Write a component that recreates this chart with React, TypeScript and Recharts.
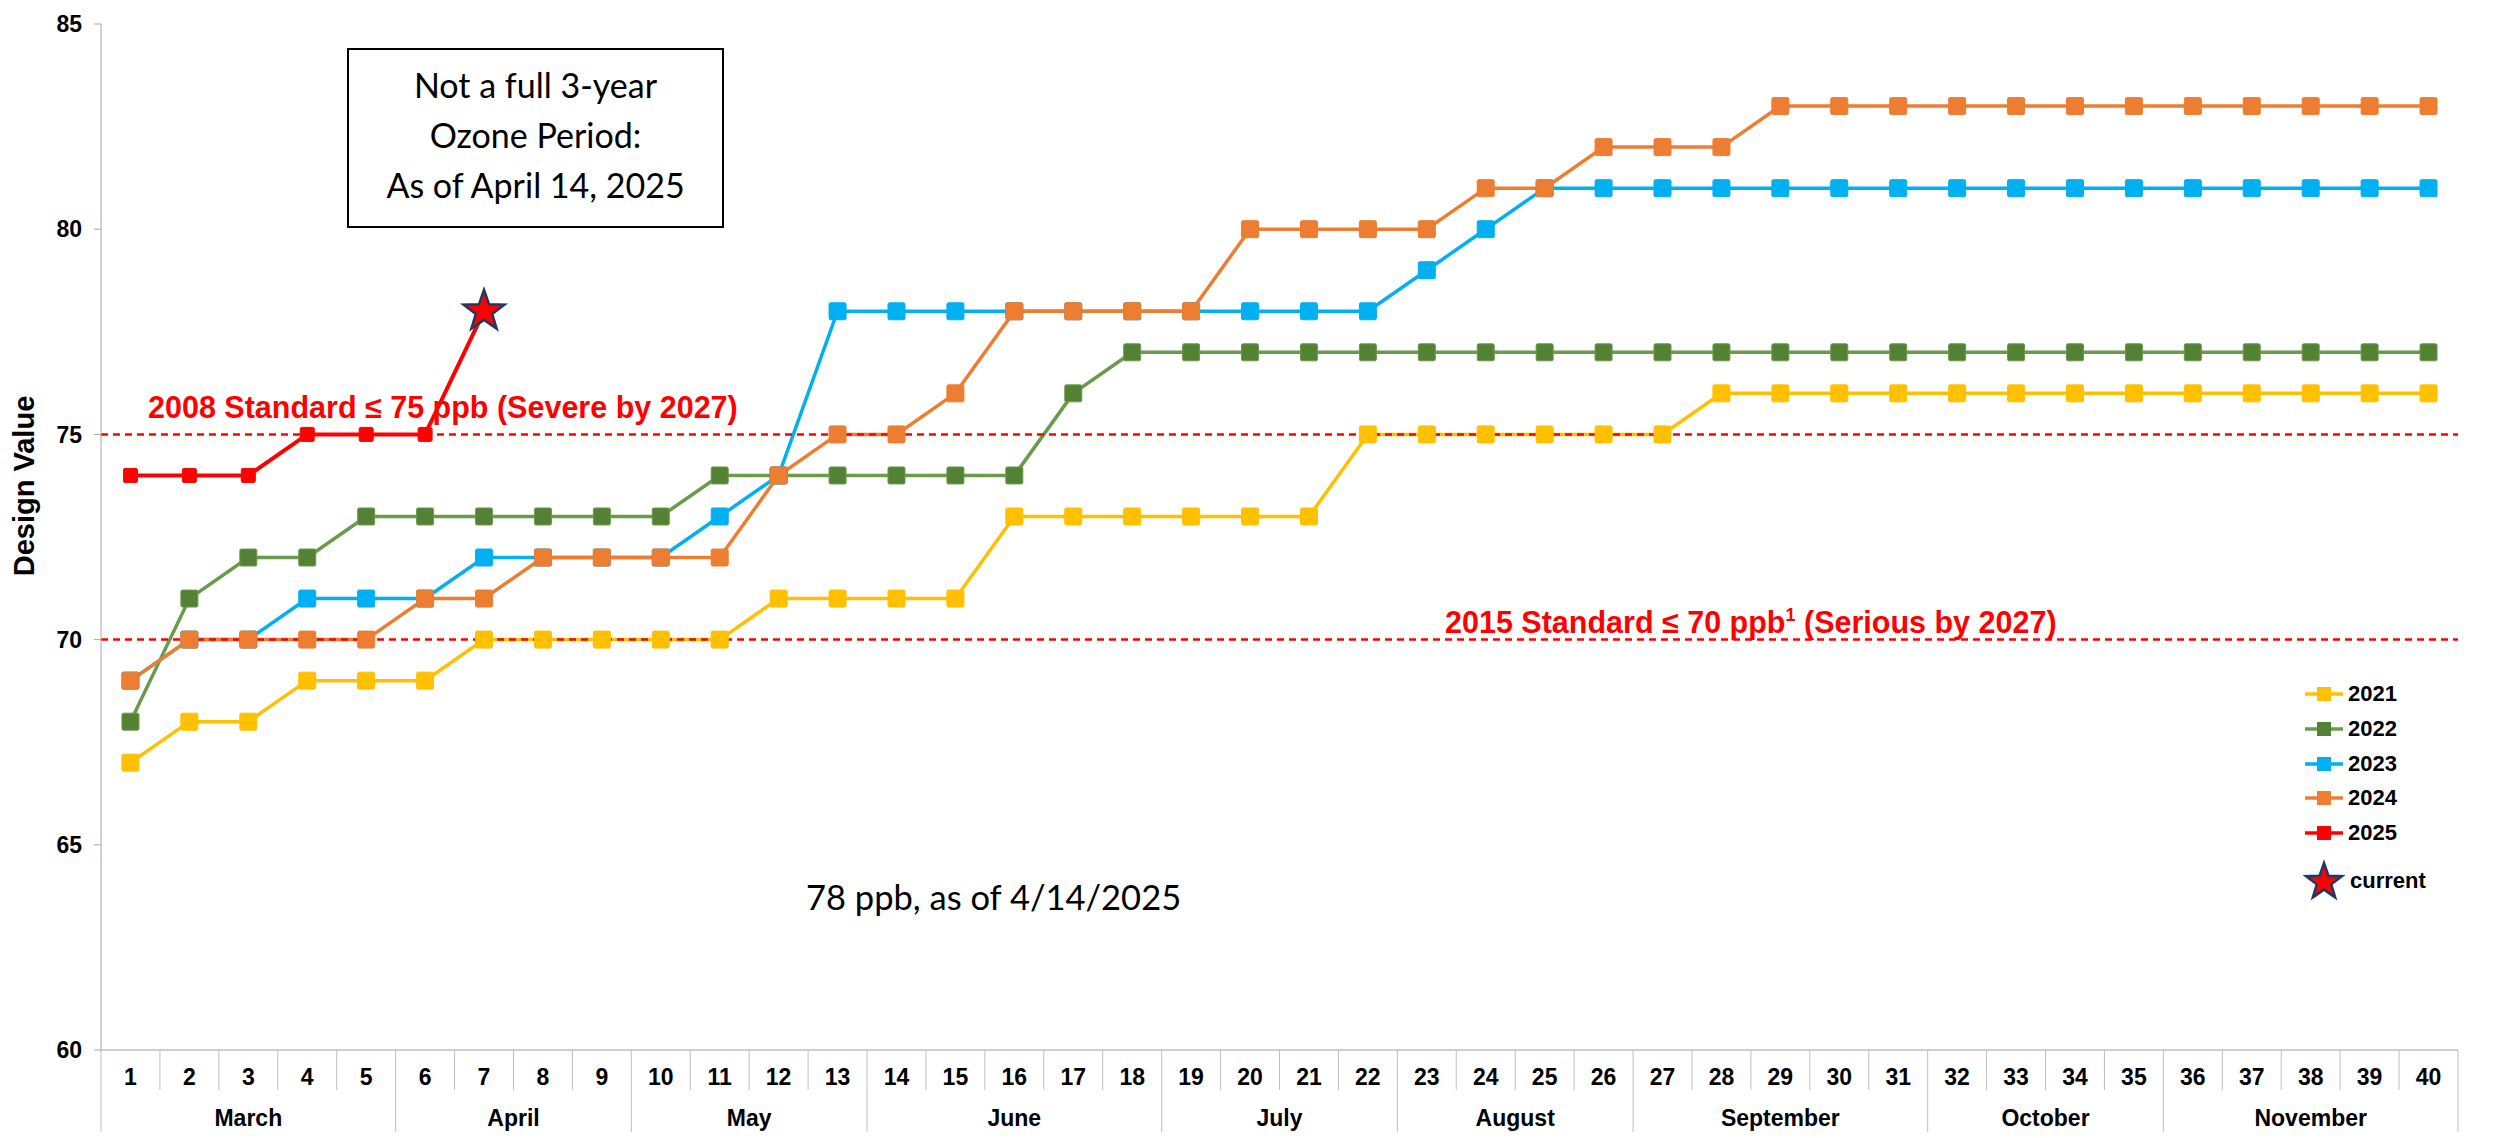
import React from 'react';
import { LineChart, Line, XAxis, YAxis, ReferenceLine, Legend } from 'recharts';

const WIDTH = 2509;
const HEIGHT = 1138;
const MARGIN = { top: 24, right: 51, bottom: 4, left: 0 };
const Y_AXIS_W = 101;
const X_AXIS_H = 84;
const ARIAL = '"Liberation Sans", Arial, sans-serif';
const CALIBRI = 'Lato, "Open Sans", sans-serif';
const GRID_GRAY = '#BFBFBF';

const weeks = [
  '1', '2', '3', '4', '5', '6', '7', '8', '9', '10',
  '11', '12', '13', '14', '15', '16', '17', '18', '19', '20',
  '21', '22', '23', '24', '25', '26', '27', '28', '29', '30',
  '31', '32', '33', '34', '35', '36', '37', '38', '39', '40',
];
const months = ['March', 'April', 'May', 'June', 'July', 'August', 'September', 'October', 'November'];
const monthWeeks = [5, 4, 4, 5, 4, 4, 5, 4, 5];

const y2021 = [67, 68, 68, 69, 69, 69, 70, 70, 70, 70, 70, 71, 71, 71, 71, 73, 73, 73, 73, 73, 73, 75, 75, 75, 75, 75, 75, 76, 76, 76, 76, 76, 76, 76, 76, 76, 76, 76, 76, 76];
const y2022 = [68, 71, 72, 72, 73, 73, 73, 73, 73, 73, 74, 74, 74, 74, 74, 74, 76, 77, 77, 77, 77, 77, 77, 77, 77, 77, 77, 77, 77, 77, 77, 77, 77, 77, 77, 77, 77, 77, 77, 77];
const y2023 = [69, 70, 70, 71, 71, 71, 72, 72, 72, 72, 73, 74, 78, 78, 78, 78, 78, 78, 78, 78, 78, 78, 79, 80, 81, 81, 81, 81, 81, 81, 81, 81, 81, 81, 81, 81, 81, 81, 81, 81];
const y2024 = [69, 70, 70, 70, 70, 71, 71, 72, 72, 72, 72, 74, 75, 75, 76, 78, 78, 78, 78, 80, 80, 80, 80, 81, 81, 82, 82, 82, 83, 83, 83, 83, 83, 83, 83, 83, 83, 83, 83, 83];
const y2025: (number | null)[] = [74, 74, 74, 75, 75, 75, 78, null, null, null, null, null, null, null, null, null, null, null, null, null, null, null, null, null, null, null, null, null, null, null, null, null, null, null, null, null, null, null, null, null];

const yTicks = [60, 65, 70, 75, 80, 85];

const SERIES = [
  { key: 'y2021', name: '2021', line: '#FFC000', fill: '#FFC000', size: 17 },
  { key: 'y2022', name: '2022', line: '#6A9A4C', fill: '#548235', size: 17 },
  { key: 'y2023', name: '2023', line: '#00B0F0', fill: '#00B0F0', size: 17 },
  { key: 'y2024', name: '2024', line: '#ED7D31', fill: '#ED7D31', size: 17 },
  { key: 'y2025', name: '2025', line: '#FF0000', fill: '#FF0000', size: 14 },
];

const data = weeks.map((w, i) => ({
  week: w,
  y2021: y2021[i],
  y2022: y2022[i],
  y2023: y2023[i],
  y2024: y2024[i],
  y2025: y2025[i],
}));

const currentIdx = y2025.reduce((acc: number, v, i) => (v != null ? i : acc), -1);

const BAND = (WIDTH - MARGIN.left - MARGIN.right - Y_AXIS_W) / weeks.length;

// first week index of each month
const monthStart: number[] = [];
monthWeeks.reduce((acc, n) => { monthStart.push(acc); return acc + n; }, 0);

function starPath(cx: number, cy: number, R: number, r: number) {
  let d = '';
  for (let k = 0; k < 10; k++) {
    const rad = k % 2 === 0 ? R : r;
    const a = -Math.PI / 2 + (k * Math.PI) / 5;
    d += (k === 0 ? 'M' : 'L') + (cx + rad * Math.cos(a)).toFixed(2) + ',' + (cy + rad * Math.sin(a)).toFixed(2);
  }
  return d + 'Z';
}

const squareDot = (s: typeof SERIES[number]) => (props: any) => {
  const { cx, cy, index } = props;
  if (cx == null || cy == null || props.value == null) return <g key={`d-${s.key}-${index}`} />;
  if (s.key === 'y2025' && index === currentIdx) {
    return (
      <path key={`d-${s.key}-${index}`} d={starPath(cx, cy, 21.5, 8.6)} fill="#FF0000" stroke="#1F3864" strokeWidth={2.5} strokeLinejoin="miter" />
    );
  }
  const h = s.size / 2;
  return (
    <rect key={`d-${s.key}-${index}`} x={cx - h} y={cy - h} width={s.size} height={s.size} rx={1.5}
      fill={s.fill} stroke={s.line} strokeWidth={1} />
  );
};

const WeekTick = (props: any) => {
  const { x, y, payload, index } = props;
  const left = x - BAND / 2;
  const m = monthStart.indexOf(index);
  const isLast = index === weeks.length - 1;
  return (
    <g>
      <line x1={left} x2={left} y1={y} y2={y + (m >= 0 ? 82 : 40)} stroke={GRID_GRAY} strokeWidth={1} />
      {isLast && <line x1={x + BAND / 2} x2={x + BAND / 2} y1={y} y2={y + 82} stroke={GRID_GRAY} strokeWidth={1} />}
      <text x={x} y={y + 35} textAnchor="middle" fontFamily={ARIAL} fontWeight={700} fontSize={23} fill="#000">
        {payload.value}
      </text>
      {m >= 0 && (
        <text x={left + (monthWeeks[m] * BAND) / 2} y={y + 76} textAnchor="middle" fontFamily={ARIAL} fontWeight={700} fontSize={23} fill="#000">
          {months[m]}
        </text>
      )}
    </g>
  );
};

const renderLegend = (props: any) => {
  const items = props.payload || [];
  return (
    <div style={{ fontFamily: ARIAL, fontWeight: 700, fontSize: 22, color: '#000' }}>
      {items.map((entry: any) => {
        const s = SERIES.find((x) => x.key === entry.dataKey) || SERIES[0];
        return (
          <div key={entry.value} style={{ display: 'flex', alignItems: 'center', height: 34.7 }}>
            <svg width={44} height={20}>
              <line x1={2} x2={40} y1={10} y2={10} stroke={s.line} strokeWidth={3.5} />
              <rect x={14} y={3} width={14} height={14} fill={s.fill} />
            </svg>
            <span style={{ marginLeft: 1 }}>{entry.value}</span>
          </div>
        );
      })}
      <div style={{ display: 'flex', alignItems: 'center', height: 62 }}>
        <svg width={44} height={44}>
          <path d={starPath(21, 23, 19, 7.6)} fill="#FF0000" stroke="#1F3864" strokeWidth={2.5} />
        </svg>
        <span style={{ marginLeft: 3 }}>current</span>
      </div>
    </div>
  );
};

export default function App() {
  return (
    <div style={{ position: 'absolute', left: 0, top: 0, width: WIDTH, height: HEIGHT, background: '#fff' }}>
      <LineChart width={WIDTH} height={HEIGHT} data={data} margin={MARGIN}>
        <XAxis
          dataKey="week"
          interval={0}
          height={X_AXIS_H}
          padding={{ left: BAND / 2, right: BAND / 2 }}
          tickSize={0}
          tickMargin={0}
          tickLine={false}
          axisLine={{ stroke: GRID_GRAY, strokeWidth: 1.5 }}
          tick={<WeekTick />}
        />
        <YAxis
          domain={[60, 85]}
          ticks={yTicks}
          width={Y_AXIS_W}
          tickSize={7}
          tickMargin={12}
          axisLine={{ stroke: '#A6A6A6', strokeWidth: 1 }}
          tickLine={{ stroke: '#A6A6A6' }}
          tick={{ fontFamily: ARIAL, fontWeight: 700, fontSize: 23, fill: '#000' }}
          label={(p: any) => {
            const vb = p.viewBox || { y: 24, height: 1026 };
            const cy = vb.y + vb.height / 2 - 51;
            return (
              <text x={24} y={cy} transform={`rotate(-90 24 ${cy})`} textAnchor="middle" dominantBaseline="central"
                fontFamily={ARIAL} fontWeight={700} fontSize={29} fill="#000">
                Design Value
              </text>
            );
          }}
        />
        {SERIES.map((s) => (
          <Line
            key={s.key}
            type="linear"
            dataKey={s.key}
            name={s.name}
            stroke={s.line}
            strokeWidth={s.key === 'y2025' ? 4 : 3.5}
            dot={squareDot(s)}
            activeDot={false}
            isAnimationActive={false}
          />
        ))}
        <ReferenceLine
          y={75}
          stroke="#FF0000"
          strokeWidth={2.5}
          strokeDasharray="7 5"
          label={(p: any) => (
            <text x={p.viewBox.x + 47} y={p.viewBox.y - 16} fontFamily={ARIAL} fontWeight={700} fontSize={30.5} fill="#FF0000">
              2008 Standard ≤ 75 ppb (Severe by 2027)
            </text>
          )}
        />
        <ReferenceLine
          y={70}
          stroke="#FF0000"
          strokeWidth={2.5}
          strokeDasharray="7 5"
          label={(p: any) => (
            <text x={p.viewBox.x + 1344} y={p.viewBox.y - 7} fontFamily={ARIAL} fontWeight={700} fontSize={30.5} fill="#FF0000">
              2015 Standard ≤ 70 ppb
              <tspan fontSize={18} dy={-12}>1</tspan>
              <tspan dy={12}> (Serious by 2027)</tspan>
            </text>
          )}
        />
        <Legend
          layout="vertical"
          align="center"
          verticalAlign="middle"
          content={renderLegend}
          wrapperStyle={{ left: 2303, top: 677, width: 200 }}
        />
      </LineChart>
      <div
        style={{
          position: 'absolute', left: 347, top: 48, width: 377, height: 180, boxSizing: 'border-box',
          border: '2px solid #000', background: '#fff', display: 'flex', flexDirection: 'column',
          justifyContent: 'center', alignItems: 'center', fontFamily: CALIBRI, fontSize: 34, lineHeight: '50px',
          color: '#000', paddingBottom: 6,
        }}
      >
        <div>Not a full 3-year</div>
        <div>Ozone Period:</div>
        <div>As of April 14, 2025</div>
      </div>
      <div style={{ position: 'absolute', left: 806, top: 876, fontFamily: CALIBRI, fontSize: 34.5, lineHeight: '42px', color: '#000', whiteSpace: 'nowrap' }}>
        78 ppb, as of 4/14/2025
      </div>
    </div>
  );
}
